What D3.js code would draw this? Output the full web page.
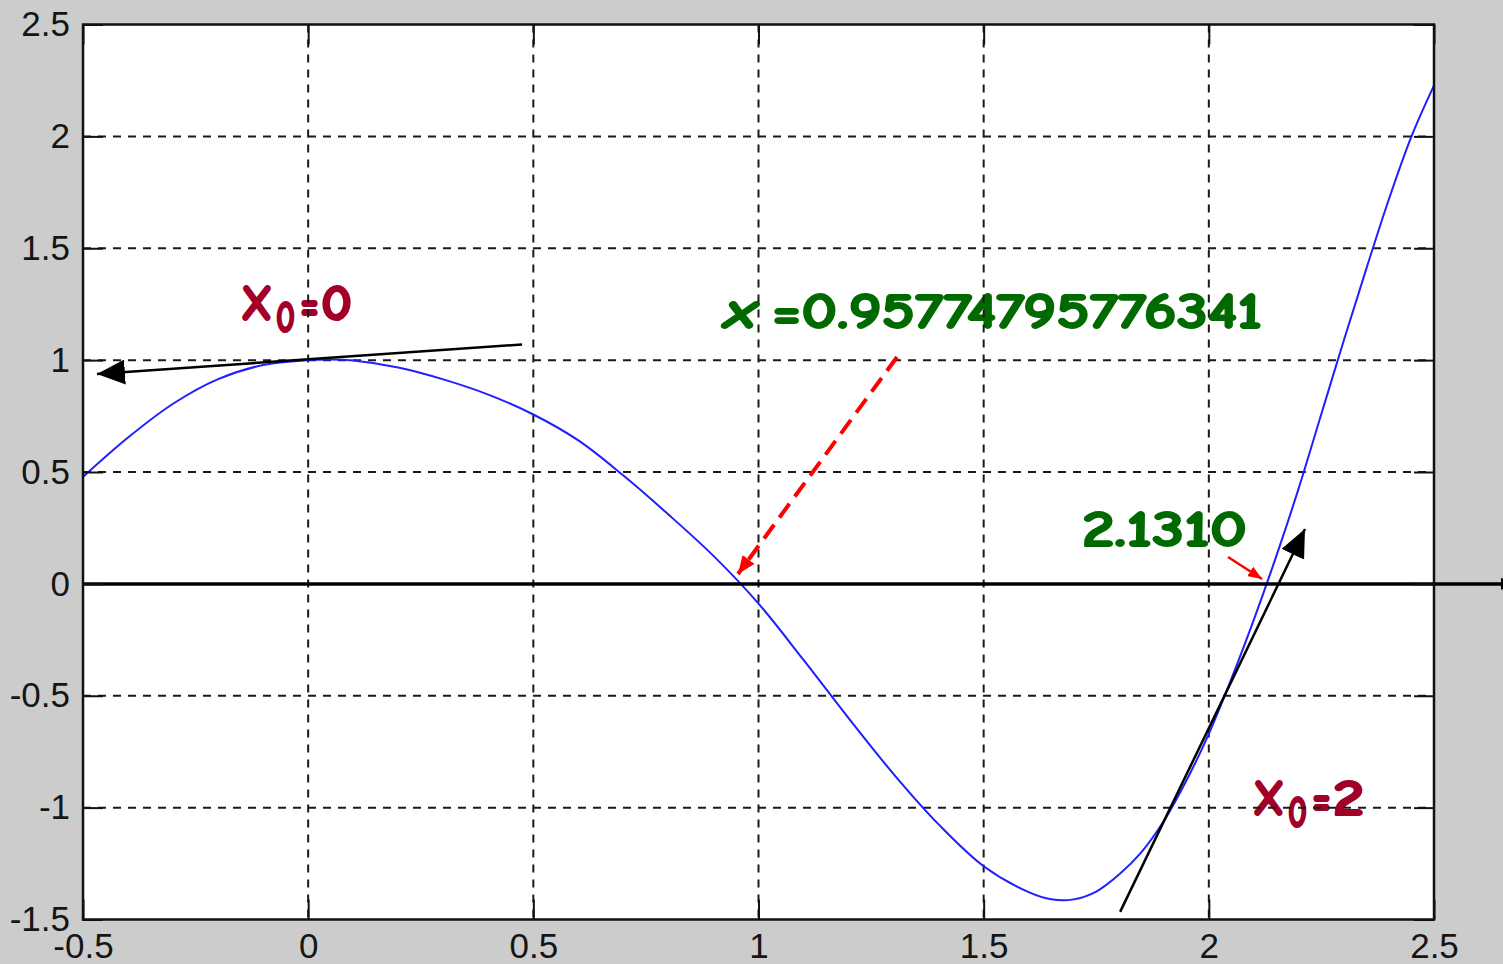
<!DOCTYPE html>
<html>
<head>
<meta charset="utf-8">
<script src="https://cdn.jsdelivr.net/npm/d3@7"></script>
<style>
html, body { margin: 0; padding: 0; background: #cccccc; overflow: hidden; }
svg { display: block; }
</style>
</head>
<body>
<svg width="1503" height="964"></svg>
<script>
// curve
const xVals = [-0.5, -0.4, -0.3, -0.2, -0.1, 0, 0.05, 0.1, 0.2, 0.3, 0.4, 0.5, 0.6, 0.7, 0.8, 0.9, 1.0,
  1.1, 1.2, 1.3, 1.4, 1.5, 1.6, 1.65, 1.7, 1.75, 1.8, 1.85, 1.9, 1.95, 2.0, 2.05, 2.1, 2.15, 2.2,
  2.25, 2.3, 2.35, 2.4, 2.45, 2.5]
const yVals = [0.478, 0.654, 0.805, 0.915, 0.978, 1.0, 1.003, 0.998, 0.967, 0.914, 0.846, 0.757, 0.641,
  0.484, 0.31, 0.125, -0.088, -0.34, -0.60, -0.85, -1.075, -1.262, -1.378, -1.410, -1.410, -1.375,
  -1.300, -1.20, -1.06, -0.88, -0.67, -0.425, -0.16, 0.125, 0.43, 0.76, 1.09, 1.41, 1.72, 2.0, 2.228]

const xTicks = [-0.5, 0, 0.5, 1, 1.5, 2, 2.5]
const xTickLabels = ["-0.5", "0", "0.5", "1", "1.5", "2", "2.5"]
const yTicks = [-1.5, -1, -0.5, 0, 0.5, 1, 1.5, 2, 2.5]
const yTickLabels = ["-1.5", "-1", "-0.5", "0", "0.5", "1", "1.5", "2", "2.5"]

// annotations (data coordinates)
const tangentLines = [
  { from: [0.475, 1.070], to: [-0.469, 0.938] },
  { from: [1.803, -1.466], to: [2.2135, 0.245] }
]
const rootArrows = [
  { from: [1.3076, 1.014], to: [0.9545, 0.044], dashed: true },
  { from: [2.0426, 0.120], to: [2.1181, 0.022], dashed: false }
]
const rootLabel1 = { at: [0.9256, 1.1436], text: "=0.95774795776341" }
const rootLabel2 = { at: [1.7184, 0.169], text: "2.1310" }
const startLabels = [
  { at: [-0.1491, 1.179], value: "0" },
  { at: [2.098, -1.033], value: "2" }
]

const width = 1503
const height = 964
const x = d3.scaleLinear().domain([-0.5, 2.5]).range([83, 1434])
const y = d3.scaleLinear().domain([-1.5, 2.5]).range([919.5, 24.5])
const comic = '"Comic Sans MS","Comic Neue","DejaVu Sans",sans-serif'
const green = "#006a00"
const wine = "#a20028"

const svg = d3.select("svg")
const defs = svg.append("defs")

function marker(id, len, wid, color){
  defs.append("marker")
    .attr("id", id)
    .attr("viewBox", `0 ${-wid/2} ${len} ${wid}`)
    .attr("refX", len).attr("refY", 0)
    .attr("markerWidth", len).attr("markerHeight", wid)
    .attr("markerUnits", "userSpaceOnUse")
    .attr("orient", "auto")
    .append("path")
    .attr("d", `M0,${-wid/2}L${len},0L0,${wid/2}Z`)
    .attr("fill", color)
}
marker("blackHead", 28, 25, "#000")
marker("redHead", 18, 15, "#ff0000")
marker("redSmall", 14, 11, "#ff0000")
marker("axisHead", 14, 12, "#000")

// plot area
svg.append("rect")
  .attr("x", x(-0.5)).attr("y", y(2.5))
  .attr("width", x(2.5) - x(-0.5)).attr("height", y(-1.5) - y(2.5))
  .attr("fill", "#fff")

// texts sit under the grid in the original
const txt = svg.append("g")
  .attr("font-family", comic).attr("font-weight", "bold")
  .attr("stroke-linejoin", "round")

function heavy(sel, color, sw){
  sel.attr("fill", color).attr("stroke", color).attr("stroke-width", sw)
}

startLabels.forEach(d => {
  const px = x(d.at[0]), py = y(d.at[1])
  const parts = [
    { t: "X", dx: 0, dy: 0, w: 32, s: 50 },
    { t: "0", dx: 35, dy: 12, w: 19, s: 44 },
    { t: "=", dx: 59, dy: 0, w: 19, s: 50 },
    { t: d.value, dx: 80, dy: 0, w: 31, s: 50 }
  ]
  parts.forEach(p => {
    txt.append("text")
      .attr("x", px + p.dx).attr("y", py + p.dy)
      .attr("font-size", p.s)
      .attr("textLength", p.w).attr("lengthAdjust", "spacingAndGlyphs")
      .call(heavy, wine, 2.2)
      .text(p.t)
  })
})

const r1x = x(rootLabel1.at[0]), r1y = y(rootLabel1.at[1])
txt.append("text")
  .attr("x", r1x).attr("y", r1y)
  .attr("font-size", 52).attr("font-style", "italic")
  .attr("textLength", 31).attr("lengthAdjust", "spacingAndGlyphs")
  .call(heavy, green, 1.8)
  .text("x")
txt.append("text")
  .attr("x", r1x + 47).attr("y", r1y)
  .attr("font-size", 50)
  .attr("textLength", 490).attr("lengthAdjust", "spacingAndGlyphs")
  .call(heavy, green, 1.8)
  .text(rootLabel1.text)

txt.append("text")
  .attr("x", x(rootLabel2.at[0])).attr("y", y(rootLabel2.at[1]))
  .attr("font-size", 50)
  .attr("textLength", 165).attr("lengthAdjust", "spacingAndGlyphs")
  .call(heavy, green, 1.8)
  .text(rootLabel2.text)

// dashed grid
const grid = svg.append("g")
  .attr("stroke", "#1a1a1a").attr("stroke-width", 2).attr("stroke-dasharray", "8,7")
grid.selectAll(".gx").data(xTicks.slice(1, -1)).enter().append("line")
  .attr("x1", d => x(d)).attr("x2", d => x(d))
  .attr("y1", y(2.5)).attr("y2", y(-1.5))
grid.selectAll(".gy").data(yTicks.slice(1, -1)).enter().append("line")
  .attr("y1", d => y(d)).attr("y2", d => y(d))
  .attr("x1", x(-0.5)).attr("x2", x(2.5))

// the curve
const pts = xVals.map((v, i) => [v, yVals[i]])
svg.append("path")
  .datum(pts)
  .attr("fill", "none")
  .attr("stroke", "#1f1fff")
  .attr("stroke-width", 2)
  .attr("d", d3.line().x(d => x(d[0])).y(d => y(d[1])).curve(d3.curveCatmullRom.alpha(0.5)))

// y = 0 axis with arrow
svg.append("line")
  .attr("x1", x(-0.5)).attr("x2", width + 12)
  .attr("y1", y(0)).attr("y2", y(0))
  .attr("stroke", "#000").attr("stroke-width", 3.5)
  .attr("marker-end", "url(#axisHead)")

// tangents
svg.selectAll(".tan").data(tangentLines).enter().append("line")
  .attr("x1", d => x(d.from[0])).attr("y1", d => y(d.from[1]))
  .attr("x2", d => x(d.to[0])).attr("y2", d => y(d.to[1]))
  .attr("stroke", "#000").attr("stroke-width", 2.5)
  .attr("marker-end", "url(#blackHead)")

// red pointers to roots
svg.selectAll(".ra").data(rootArrows).enter().append("line")
  .attr("x1", d => x(d.from[0])).attr("y1", d => y(d.from[1]))
  .attr("x2", d => x(d.to[0])).attr("y2", d => y(d.to[1]))
  .attr("stroke", "#ff0000")
  .attr("stroke-width", d => d.dashed ? 4 : 2.5)
  .attr("stroke-dasharray", d => d.dashed ? "17,9" : null)
  .attr("marker-end", d => d.dashed ? "url(#redHead)" : "url(#redSmall)")

// axes, MATLAB style ticks inward on all four sides
const tickFont = g => g.selectAll("text")
  .attr("font-family", '"Liberation Sans",Arial,sans-serif')
  .attr("font-size", 35).attr("fill", "#151515")
const clean = g => { g.select(".domain").remove(); g.selectAll("line").attr("stroke", "#111").attr("stroke-width", 2) }

svg.append("g").attr("transform", `translate(0,${y(-1.5)})`)
  .call(d3.axisBottom(x).tickValues(xTicks).tickFormat((d, i) => xTickLabels[i]).tickSizeInner(-20).tickSizeOuter(0).tickPadding(14))
  .call(clean).call(tickFont)
svg.append("g").attr("transform", `translate(${x(-0.5)},0)`)
  .call(d3.axisLeft(y).tickValues(yTicks).tickFormat((d, i) => yTickLabels[i]).tickSizeInner(-20).tickSizeOuter(0).tickPadding(13))
  .call(clean).call(tickFont)
svg.append("g").attr("transform", `translate(0,${y(2.5)})`)
  .call(d3.axisTop(x).tickValues(xTicks).tickFormat("").tickSizeInner(-20).tickSizeOuter(0))
  .call(clean)
svg.append("g").attr("transform", `translate(${x(2.5)},0)`)
  .call(d3.axisRight(y).tickValues(yTicks).tickFormat("").tickSizeInner(-20).tickSizeOuter(0))
  .call(clean)

// frame
svg.append("rect")
  .attr("x", x(-0.5)).attr("y", y(2.5))
  .attr("width", x(2.5) - x(-0.5)).attr("height", y(-1.5) - y(2.5))
  .attr("fill", "none").attr("stroke", "#111").attr("stroke-width", 2.5)
</script>
</body>
</html>
